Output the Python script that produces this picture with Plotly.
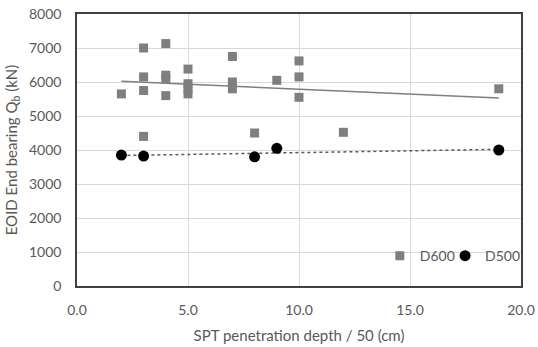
import numpy as np
import plotly.graph_objects as go

# SPT penetration depth (blows per 50 cm) and EOID end bearing (kN)
d600_depth = [2, 3, 3, 3, 3, 4, 4, 4, 4, 5, 5, 5, 5, 7, 7, 7, 8, 9, 10, 10, 10, 12, 19]
d600_qb = [5650, 7000, 6150, 5750, 4400, 7130, 6200, 6100, 5600, 6380, 5950, 5800, 5650,
           6750, 6000, 5800, 4500, 6050, 6620, 6150, 5550, 4520, 5800]

d500_depth = [2, 3, 8, 9, 19]
d500_qb = [3850, 3820, 3800, 4050, 4000]

x_ticks = [0, 5, 10, 15, 20]
x_tick_text = ["0.0", "5.0", "10.0", "15.0", "20.0"]
y_ticks = [0, 1000, 2000, 3000, 4000, 5000, 6000, 7000, 8000]

FONT = "Lato"
TEXT_GREY = "#595959"


def linear_fit(xs, ys):
    """Least-squares line evaluated at the extremes of xs."""
    slope, intercept = np.polyfit(xs, ys, 1)
    x_end = [min(xs), max(xs)]
    return x_end, [slope * v + intercept for v in x_end]


fig = go.Figure()

fit_x, fit_y = linear_fit(d600_depth, d600_qb)
fig.add_trace(go.Scatter(x=fit_x, y=fit_y, mode="lines", showlegend=False,
                         line=dict(color="#7f7f7f", width=1.5), hoverinfo="skip"))

fit_x, fit_y = linear_fit(d500_depth, d500_qb)
fig.add_trace(go.Scatter(x=fit_x, y=fit_y, mode="lines", showlegend=False,
                         line=dict(color="#595959", width=1.5, dash="dot"), hoverinfo="skip"))

# each series gets its own small legend box so the two entries sit close together
fig.add_trace(go.Scatter(x=d600_depth, y=d600_qb, mode="markers", name="D600",
                         legend="legend",
                         marker=dict(symbol="square", size=9, color="#7f7f7f")))
fig.add_trace(go.Scatter(x=d500_depth, y=d500_qb, mode="markers", name="D500",
                         legend="legend2",
                         marker=dict(symbol="circle", size=11, color="#000000")))

axis_common = dict(
    showgrid=True, gridcolor="#d9d9d9", gridwidth=1,
    showline=True, linecolor="#404040", linewidth=1.5, mirror=True,
    zeroline=False, ticks="", automargin=False,
    tickfont=dict(family=FONT, size=14, color=TEXT_GREY),
)

fig.update_xaxes(range=[0, 20], tickvals=x_ticks, ticktext=x_tick_text,
                 ticklabelstandoff=10,
                 title=dict(text="SPT penetration depth / 50 (cm)", standoff=14,
                            font=dict(family=FONT, size=15, color=TEXT_GREY)),
                 **axis_common)
fig.update_yaxes(range=[0, 8000], tickvals=y_ticks,
                 ticklabelstandoff=11,
                 title=dict(text="EOID End bearing Q<sub>b</sub> (kN)", standoff=8,
                            font=dict(family=FONT, size=15, color=TEXT_GREY)),
                 **axis_common)

legend_style = dict(orientation="h", xanchor="left", y=0.11, yanchor="middle",
                    bgcolor="rgba(0,0,0,0)", itemwidth=30,
                    font=dict(family=FONT, size=14, color=TEXT_GREY))

fig.update_layout(
    width=538, height=347,
    margin=dict(l=77, r=17, t=14, b=61, autoexpand=False),
    paper_bgcolor="white", plot_bgcolor="white",
    font=dict(family=FONT, size=14, color=TEXT_GREY),
    legend=dict(x=0.682, **legend_style),
    legend2=dict(x=0.829, **legend_style),
)

fig.write_html("out.html")
